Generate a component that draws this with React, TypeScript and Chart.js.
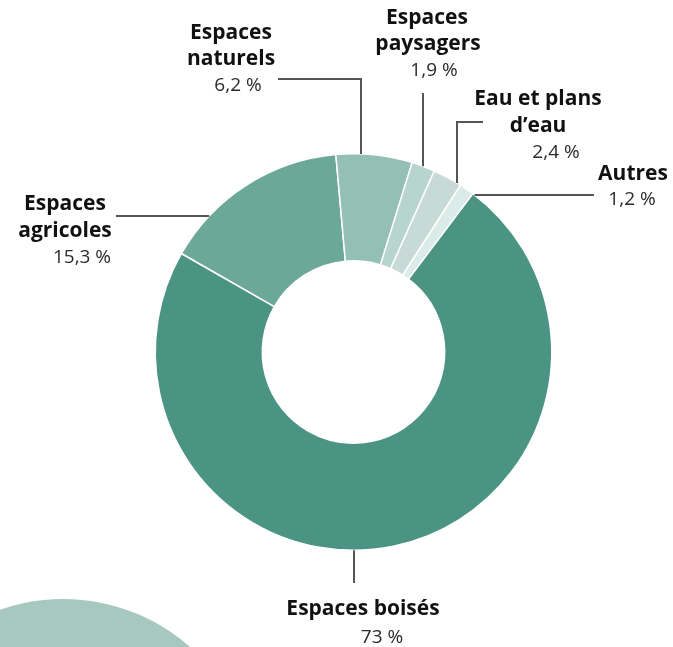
import React, { useEffect, useRef } from "react";
import { Chart, registerables } from "chart.js";

Chart.register(...registerables);

// ---- data ----
const categories = [
  "Espaces boisés",
  "Espaces agricoles",
  "Espaces naturels",
  "Espaces paysagers",
  "Eau et plans d’eau",
  "Autres",
];
const shares = [73, 15.3, 6.2, 1.9, 2.4, 1.2];
const valueLabels = ["73 %", "15,3 %", "6,2 %", "1,9 %", "2,4 %", "1,2 %"];
const titleLines = [
  ["Espaces boisés"],
  ["Espaces", "agricoles"],
  ["Espaces", "naturels"],
  ["Espaces", "paysagers"],
  ["Eau et plans", "d’eau"],
  ["Autres"],
];

// ---- styles ----
const sliceColors = ["#4b9484", "#6ca898", "#94bfb4", "#b8d4ce", "#c8dad6", "#dbebe7"];

type Pt = [number, number];
type Layout = {
  titles: Pt[];
  value: Pt;
  leader: Pt[];
  end: "down" | "up" | "left" | "right";
};
const layouts: Layout[] = [
  { titles: [[363, 615]], value: [382, 643], leader: [[354, 583]], end: "up" },
  { titles: [[65, 210], [65, 237]], value: [82, 263], leader: [[116, 216]], end: "right" },
  { titles: [[231, 39], [231, 65]], value: [238, 91], leader: [[278, 79], [361, 79]], end: "down" },
  { titles: [[427, 24], [428, 50]], value: [434, 76], leader: [[423, 93]], end: "down" },
  { titles: [[538, 105], [538, 132]], value: [556, 158], leader: [[483, 122], [457, 122]], end: "down" },
  { titles: [[633, 180]], value: [632, 205], leader: [[594, 195]], end: "left" },
];

const labelPlugin = {
  id: "labels",
  beforeDraw(chart: any) {
    const ctx = chart.ctx;
    ctx.save();
    ctx.fillStyle = "#a6c8bf";
    ctx.beginPath();
    ctx.arc(63, 791, 192, 0, Math.PI * 2);
    ctx.fill();
    ctx.restore();
  },
  afterDraw(chart: any) {
    const ctx = chart.ctx;
    const arc = chart.getDatasetMeta(0).data[0];
    if (!arc) return;
    const cx = arc.x;
    const cy = arc.y;
    const R = arc.outerRadius;
    ctx.save();
    layouts.forEach((l, i) => {
      const pts = l.leader.slice();
      const last = pts[pts.length - 1];
      let endPt: Pt;
      if (l.end === "down") {
        const dx = last[0] - cx;
        endPt = [last[0], cy - Math.sqrt(Math.max(R * R - dx * dx, 0))];
      } else if (l.end === "up") {
        const dx = last[0] - cx;
        endPt = [last[0], cy + Math.sqrt(Math.max(R * R - dx * dx, 0))];
      } else if (l.end === "left") {
        const dy = last[1] - cy;
        endPt = [cx + Math.sqrt(Math.max(R * R - dy * dy, 0)), last[1]];
      } else {
        const dy = last[1] - cy;
        endPt = [cx - Math.sqrt(Math.max(R * R - dy * dy, 0)), last[1]];
      }
      ctx.strokeStyle = "#555555";
      ctx.lineWidth = 2;
      ctx.beginPath();
      ctx.moveTo(pts[0][0], pts[0][1]);
      for (let k = 1; k < pts.length; k++) ctx.lineTo(pts[k][0], pts[k][1]);
      ctx.lineTo(endPt[0], endPt[1]);
      ctx.stroke();

      ctx.textAlign = "center";
      ctx.textBaseline = "alphabetic";
      ctx.fillStyle = "#111111";
      ctx.font = "700 21px 'Open Sans'";
      titleLines[i].forEach((t, k) => {
        const p = l.titles[k];
        ctx.fillText(t, p[0], p[1]);
      });
      ctx.fillStyle = "#2a2a2a";
      ctx.font = "400 19px 'Open Sans'";
      ctx.fillText(valueLabels[i], l.value[0], l.value[1]);
    });
    ctx.restore();
  },
};

export default function App() {
  const ref = useRef<HTMLCanvasElement | null>(null);
  useEffect(() => {
    if (!ref.current) return;
    const chart = new Chart(ref.current, {
      type: "doughnut",
      data: {
        labels: categories,
        datasets: [
          {
            data: shares,
            backgroundColor: sliceColors,
            borderColor: "#ffffff",
            borderWidth: 1.5,
            hoverOffset: 0,
          },
        ],
      },
      options: {
        responsive: false,
        animation: false,
        devicePixelRatio: 1,
        rotation: 37,
        cutout: "46%",
        layout: { padding: { left: 154, right: 120, top: 153, bottom: 96 } },
        plugins: {
          legend: { display: false },
          tooltip: { enabled: false },
        },
      },
      plugins: [labelPlugin],
    });
    return () => chart.destroy();
  }, []);
  return (
    <div style={{ position: "fixed", left: 0, top: 0, width: 673, height: 647, background: "#ffffff", overflow: "hidden" }}>
      <canvas ref={ref} width={673} height={647} style={{ display: "block" }} />
    </div>
  );
}
